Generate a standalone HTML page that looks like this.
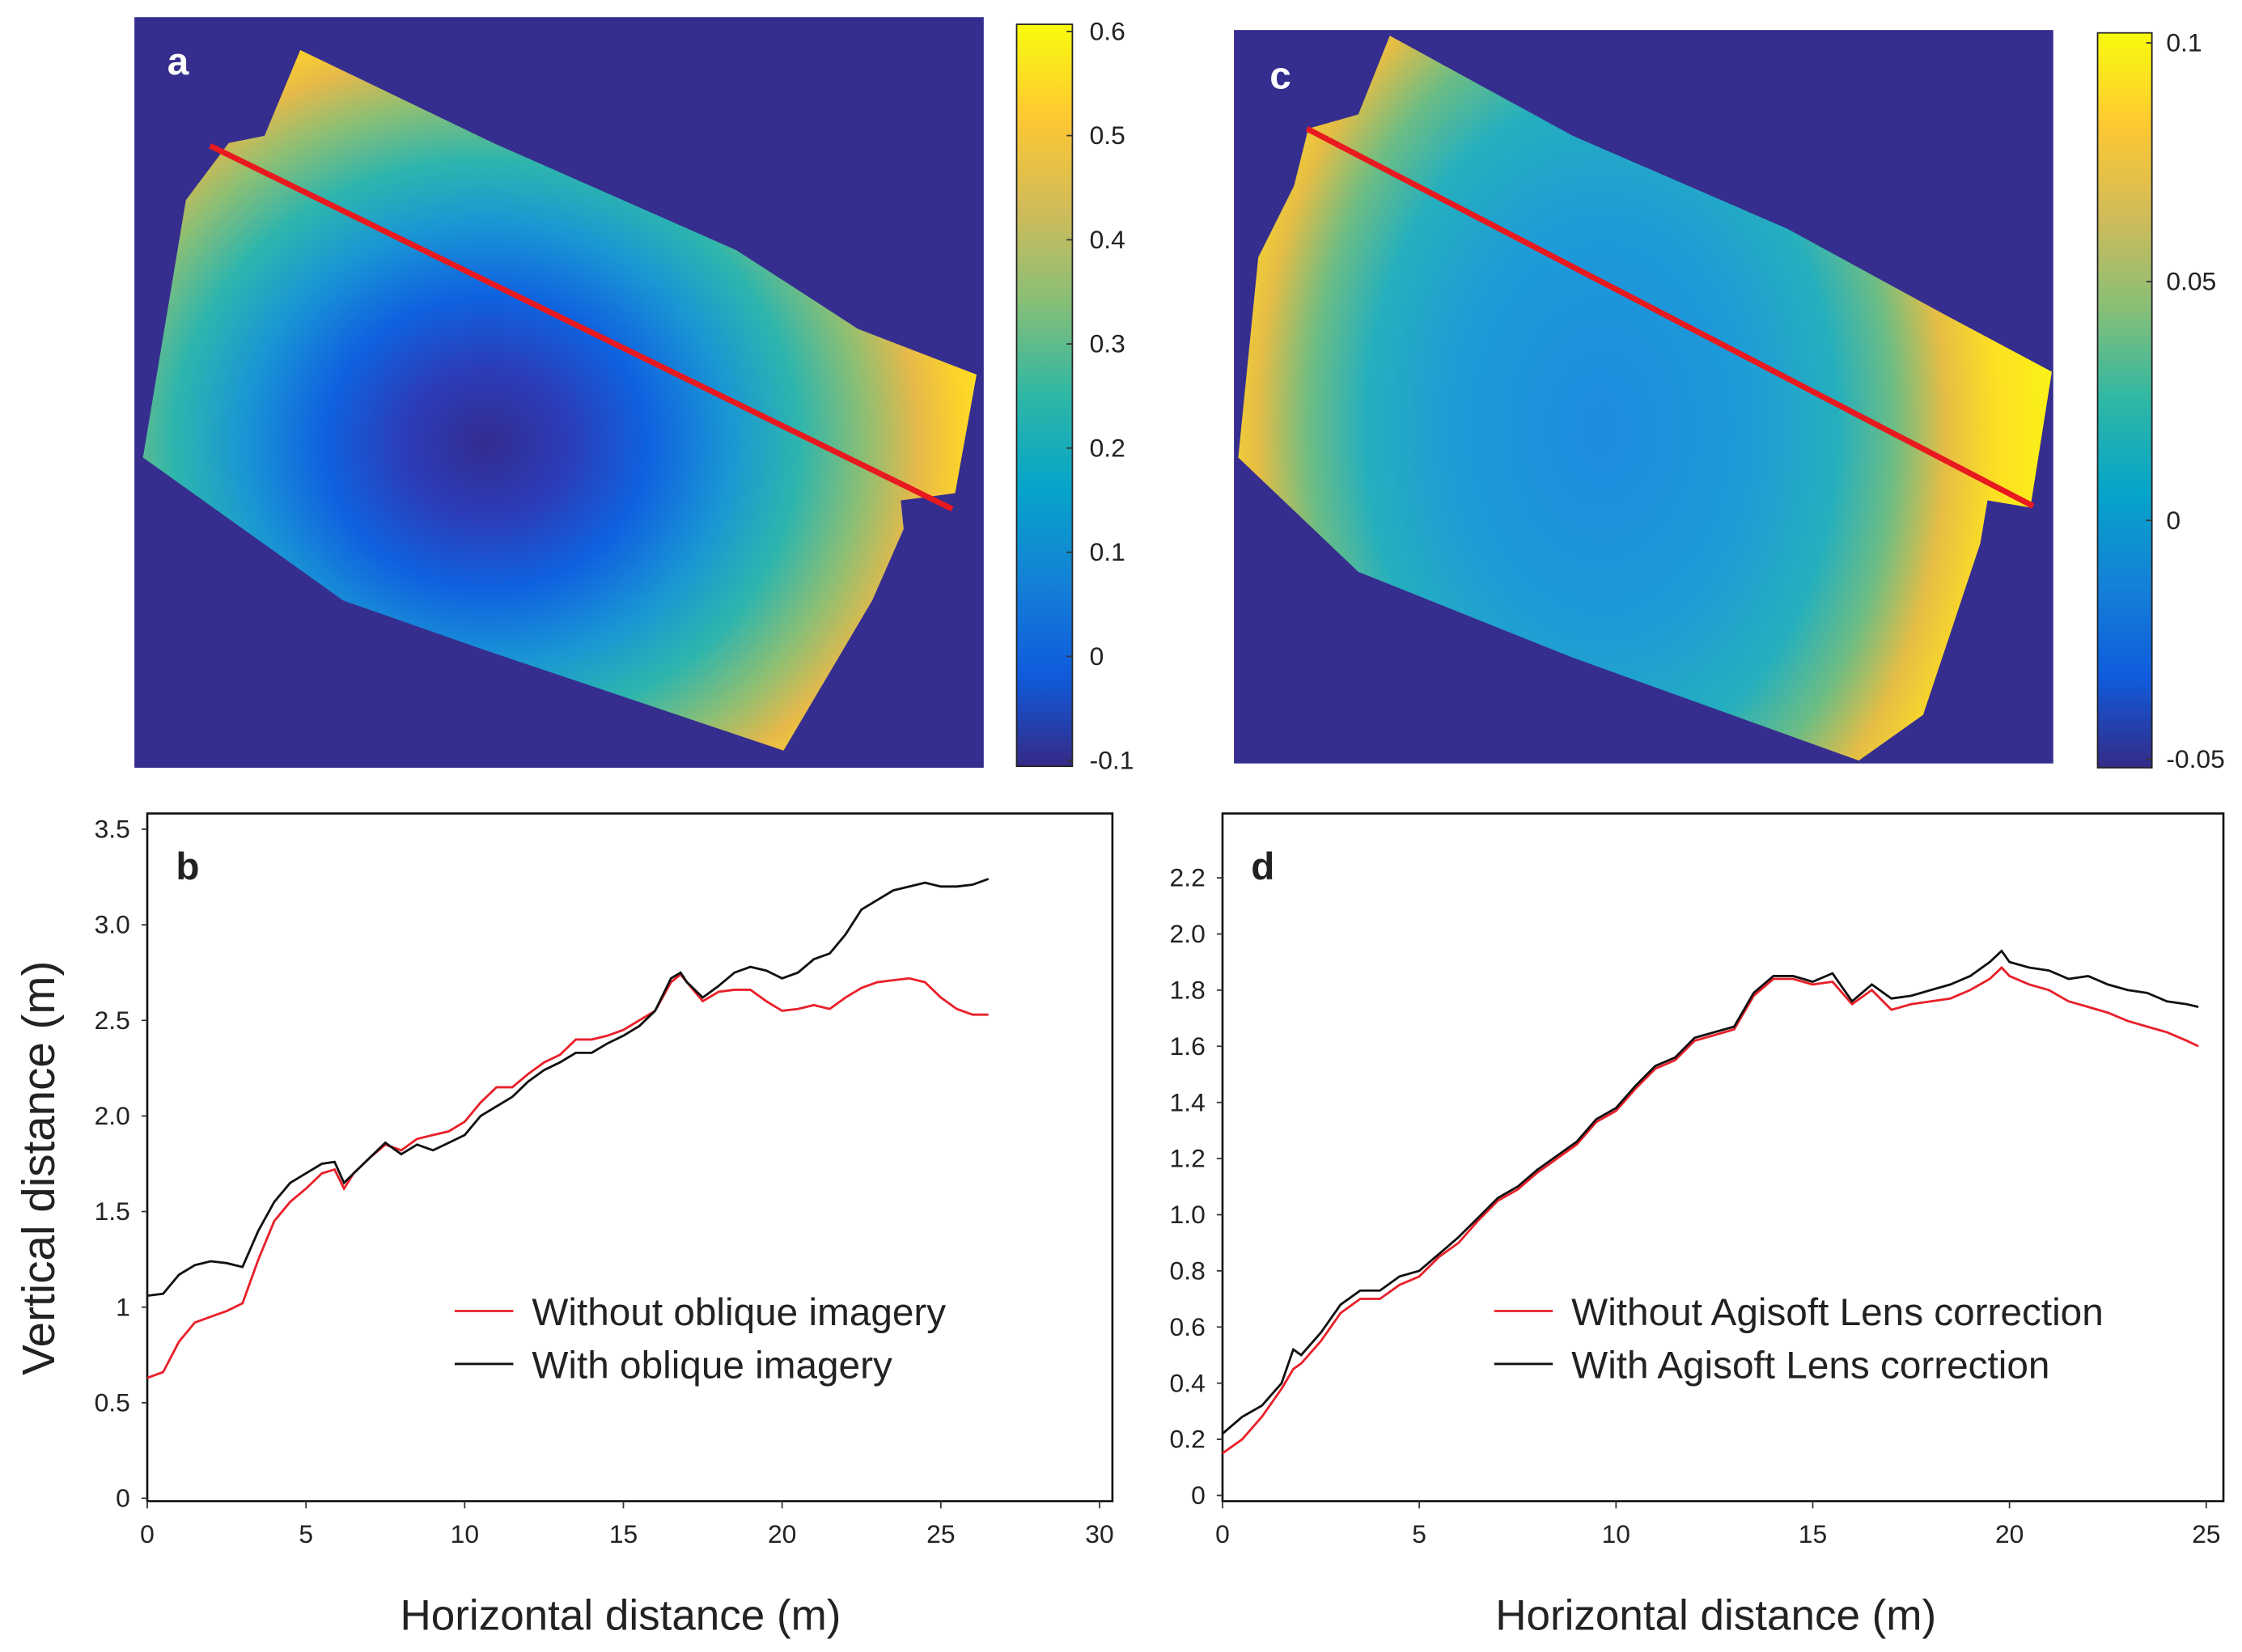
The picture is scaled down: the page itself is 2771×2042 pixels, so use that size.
<!DOCTYPE html>
<html><head><meta charset="utf-8"><style>
html,body{margin:0;padding:0;background:#fff}
svg{display:block}
text{font-family:"Liberation Sans",sans-serif;fill:#222}
</style></head><body>
<svg id="fig" width="2771" height="2042" viewBox="0 0 1568 1155.5" preserveAspectRatio="none" xmlns="http://www.w3.org/2000/svg">
<defs>
<linearGradient id="parula" x1="0" y1="1" x2="0" y2="0">
<stop offset="0" stop-color="#352A87"/><stop offset="0.125" stop-color="#0F5CDD"/><stop offset="0.25" stop-color="#1481D6"/><stop offset="0.375" stop-color="#06A4CA"/><stop offset="0.5" stop-color="#2EB7A4"/><stop offset="0.625" stop-color="#87BF77"/><stop offset="0.75" stop-color="#D1BB59"/><stop offset="0.875" stop-color="#FEC832"/><stop offset="1" stop-color="#F9FB0E"/>
</linearGradient>
<radialGradient id="ga" gradientUnits="userSpaceOnUse" cx="340" cy="310" r="360" gradientTransform="translate(340 310) scale(1.05 0.95) translate(-340 -310)">
<stop offset="0" stop-color="#322c90"/><stop offset="0.15" stop-color="#2c3cb8"/><stop offset="0.3" stop-color="#0f62e0"/><stop offset="0.45" stop-color="#1a96d4"/><stop offset="0.58" stop-color="#2eb5ad"/><stop offset="0.7" stop-color="#8cbf74"/><stop offset="0.8" stop-color="#e6b94a"/><stop offset="0.88" stop-color="#fcd22a"/><stop offset="1" stop-color="#f9f812"/>
</radialGradient>
<radialGradient id="gc" gradientUnits="userSpaceOnUse" cx="1120" cy="300" r="330" gradientTransform="translate(1120 300) scale(1 1.4) translate(-1120 -300)">
<stop offset="0" stop-color="#1f8be0"/><stop offset="0.3" stop-color="#1d9ad8"/><stop offset="0.5" stop-color="#25afbe"/><stop offset="0.62" stop-color="#6cbd84"/><stop offset="0.73" stop-color="#e6bd45"/><stop offset="0.84" stop-color="#fde023"/><stop offset="1" stop-color="#f9f812"/>
</radialGradient>
</defs>

<!-- panel a -->
<rect x="94" y="12" width="594" height="525" fill="#352E8E"/>
<polygon fill="url(#ga)" points="210,35 345,100 515,175 600,230 683,262 668,345 630,350 632,370 610,420 548,525 340,455 240,420 100,320 130,140 160,100 185,95"/>
<line x1="147" y1="102" x2="666" y2="356" stroke="#e8191f" stroke-width="4"/>
<text x="117" y="52" font-size="27" font-weight="bold" style="fill:#fff">a</text>
<rect x="711" y="17" width="39" height="519" fill="url(#parula)" stroke="#222" stroke-width="1"/>
<g id="cba" font-size="18"></g>

<!-- panel c -->
<rect x="863" y="21" width="573" height="513" fill="#352E8E"/>
<polygon fill="url(#gc)" points="972,25 1100,95 1250,160 1360,220 1435,260 1420,355 1390,350 1385,380 1345,500 1300,532 1100,460 950,400 866,320 880,180 905,130 915,90 950,80"/>
<line x1="914" y1="90" x2="1422" y2="354" stroke="#e8191f" stroke-width="4"/>
<text x="888" y="62" font-size="27" font-weight="bold" style="fill:#fff">c</text>
<rect x="1467" y="23" width="38" height="514" fill="url(#parula)" stroke="#222" stroke-width="1"/>
<g id="cbc" font-size="18"></g>

<!-- panel b -->
<g id="pb"></g>
<!-- panel d -->
<g id="pd"></g>

<text transform="translate(38 817) rotate(-90)" text-anchor="middle" font-size="32">Vertical distance (m)</text>
</svg>
<script>
const NS="http://www.w3.org/2000/svg";
const cbaTicks=["0.6","0.5","0.4","0.3","0.2","0.1","0","-0.1"];
const cbaVals=[0.6,0.5,0.4,0.3,0.2,0.1,0,-0.1];
const cbcTicks=["0.1","0.05","0","-0.05"];
const cbcVals=[0.1,0.05,0,-0.05];

const bX=[0,0.5,1,1.5,2,2.5,3,3.5,4,4.5,5,5.5,5.9,6.2,6.5,7,7.5,8,8.5,9,9.5,10,10.5,11,11.5,12,12.5,13,13.5,14,14.5,15,15.5,16,16.5,16.8,17,17.5,18,18.5,19,19.5,20,20.5,21,21.5,22,22.5,23,23.5,24,24.5,25,25.5,26,26.5];
const bRed=[0.63,0.66,0.82,0.92,0.95,0.98,1.02,1.25,1.45,1.55,1.62,1.7,1.72,1.62,1.7,1.78,1.85,1.82,1.88,1.9,1.92,1.97,2.07,2.15,2.15,2.22,2.28,2.32,2.4,2.4,2.42,2.45,2.5,2.55,2.7,2.74,2.7,2.6,2.65,2.66,2.66,2.6,2.55,2.56,2.58,2.56,2.62,2.67,2.7,2.71,2.72,2.7,2.62,2.56,2.53,2.53];
const bBlack=[1.06,1.07,1.17,1.22,1.24,1.23,1.21,1.4,1.55,1.65,1.7,1.75,1.76,1.65,1.7,1.78,1.86,1.8,1.85,1.82,1.86,1.9,2.0,2.05,2.1,2.18,2.24,2.28,2.33,2.33,2.38,2.42,2.47,2.55,2.72,2.75,2.7,2.62,2.68,2.75,2.78,2.76,2.72,2.75,2.82,2.85,2.95,3.08,3.13,3.18,3.2,3.22,3.2,3.2,3.21,3.24];
const bXTicks=["0","5","10","15","20","25","30"];
const bYTicks=["0","0.5","1","1.5","2.0","2.5","3.0","3.5"];

const dX=[0,0.5,1,1.5,1.8,2,2.5,3,3.5,4,4.5,5,5.5,6,6.5,7,7.5,8,8.5,9,9.5,10,10.5,11,11.5,12,12.5,13,13.5,14,14.5,15,15.5,16,16.5,17,17.5,18,18.5,19,19.5,19.8,20,20.5,21,21.5,22,22.5,23,23.5,24,24.5,24.8];
const dRed=[0.15,0.2,0.28,0.38,0.45,0.47,0.55,0.65,0.7,0.7,0.75,0.78,0.85,0.9,0.98,1.05,1.09,1.15,1.2,1.25,1.33,1.37,1.45,1.52,1.55,1.62,1.64,1.66,1.78,1.84,1.84,1.82,1.83,1.75,1.8,1.73,1.75,1.76,1.77,1.8,1.84,1.88,1.85,1.82,1.8,1.76,1.74,1.72,1.69,1.67,1.65,1.62,1.6];
const dBlack=[0.22,0.28,0.32,0.4,0.52,0.5,0.58,0.68,0.73,0.73,0.78,0.8,0.86,0.92,0.99,1.06,1.1,1.16,1.21,1.26,1.34,1.38,1.46,1.53,1.56,1.63,1.65,1.67,1.79,1.85,1.85,1.83,1.86,1.76,1.82,1.77,1.78,1.8,1.82,1.85,1.9,1.94,1.9,1.88,1.87,1.84,1.85,1.82,1.8,1.79,1.76,1.75,1.74];
const dXTicks=["0","5","10","15","20","25"];
const dYTicks=["0","0.2","0.4","0.6","0.8","1.0","1.2","1.4","1.6","1.8","2.0","2.2"];

function mk(tag,attrs,parent){const e=document.createElementNS(NS,tag);for(const k in attrs)e.setAttribute(k,attrs[k]);parent.appendChild(e);return e;}

function cbar(gId,labels,vals,vmin,vmax,yTop,yBot,x,bx){
  const g=document.getElementById(gId);
  const sy=v=>yBot-(v-vmin)/(vmax-vmin)*(yBot-yTop);
  labels.forEach((l,i)=>{
    const t=mk('text',{x:x,y:sy(vals[i])+6,'font-size':18},g);t.textContent=l;
    
    
    const tk=mk('line',{x1:bx-4,x2:bx,y1:sy(vals[i]),y2:sy(vals[i]),stroke:'#333','stroke-width':1},g);
    
    
  });
}
cbar('cba',cbaTicks,cbaVals,-0.1,0.6,22,532,762,750);
cbar('cbc',cbcTicks,cbcVals,-0.05,0.1,30,531,1515,1505);

function chart(gId,opt){
  const g=document.getElementById(gId);
  const sx=v=>opt.x0+(v-opt.xmin)/(opt.xmax-opt.xmin)*(opt.x1-opt.x0);
  const sy=v=>opt.y0-(v-opt.ymin)/(opt.ymax-opt.ymin)*(opt.y0-opt.y1);
  const fr=mk('rect',{x:opt.fx0,y:opt.fy0,width:opt.fx1-opt.fx0,height:opt.fy1-opt.fy0,fill:'none',stroke:'#111','stroke-width':1.5},g);
  
  
  opt.xt.forEach(l=>{const v=parseFloat(l);
    const t=mk('text',{x:sx(v),y:opt.fy1+29,'text-anchor':'middle','font-size':18},g);t.textContent=l;
    
    
    mk('line',{x1:sx(v),x2:sx(v),y1:opt.fy1,y2:opt.fy1+5,stroke:'#333'},g);
  });
  opt.yt.forEach(l=>{const v=parseFloat(l);
    const t=mk('text',{x:opt.fx0-12,y:sy(v)+6,'text-anchor':'end','font-size':18},g);t.textContent=l;
    
    
    mk('line',{x1:opt.fx0-4,x2:opt.fx0,y1:sy(v),y2:sy(v),stroke:'#333'},g);
  });
  [[opt.red,'#e8202a','series-red'],[opt.black,'#111','series-black']].forEach(([ys,c,n])=>{
    const p=mk('path',{d:ys.map((y,i)=>(i?'L':'M')+sx(opt.xs[i]).toFixed(1)+','+sy(y).toFixed(1)).join(''),fill:'none',stroke:c,'stroke-width':1.6},g);
    
    
  });
  const lt=mk('text',{x:opt.fx0+20,y:opt.fy0+46,'font-size':27,'font-weight':'bold'},g);lt.textContent=opt.letter;
  
  
  opt.leg.forEach((s,i)=>{
    const yy=917+i*37;
    const ln=mk('line',{x1:opt.lx,x2:opt.lx+41,y1:yy,y2:yy,stroke:i?'#111':'#e8202a','stroke-width':1.6},g);
    
    
    const t=mk('text',{x:opt.lx+54,y:yy+10,'font-size':27},g);t.textContent=s;
    
    
  });
  const xl=mk('text',{x:opt.xlc,y:1140,'text-anchor':'middle','font-size':30},g);xl.textContent='Horizontal distance (m)';
  
  
}
chart('pb',{fx0:103,fx1:778,fy0:569,fy1:1050,x0:103,x1:769,xmin:0,xmax:30,y0:1048,y1:580,ymin:0,ymax:3.5,
  xs:bX,red:bRed,black:bBlack,xt:bXTicks,yt:bYTicks,letter:'b',lx:318,xlc:434,
  leg:['Without oblique imagery','With oblique imagery']});
chart('pd',{fx0:855,fx1:1555,fy0:569,fy1:1050,x0:855,x1:1543,xmin:0,xmax:25,y0:1046,y1:614,ymin:0,ymax:2.2,
  xs:dX,red:dRed,black:dBlack,xt:dXTicks,yt:dYTicks,letter:'d',lx:1045,xlc:1200,
  leg:['Without Agisoft Lens correction','With Agisoft Lens correction']});
</script>
</body></html>
